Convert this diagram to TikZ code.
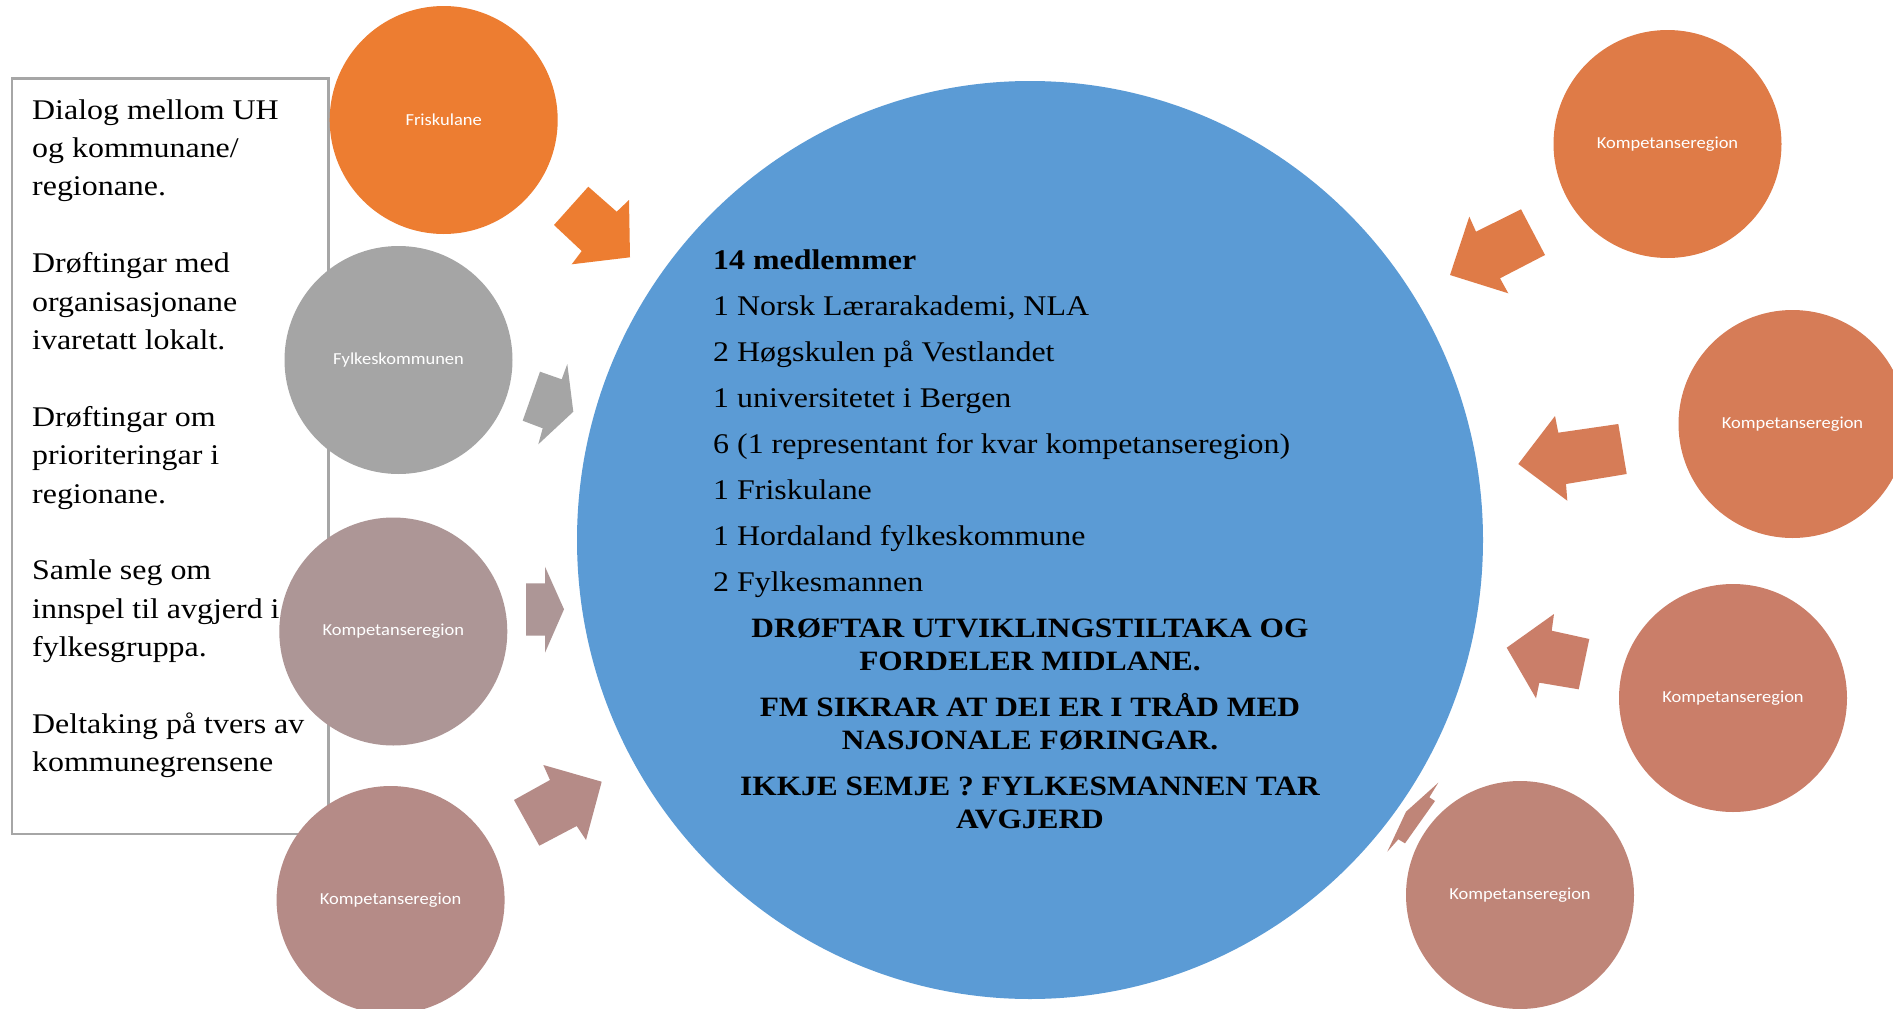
\documentclass[tikz,border=0pt]{standalone}
\usepackage{fontspec}
\usetikzlibrary{shapes.geometric}
\newfontfamily\serifw[FakeStretch=1.12]{Liberation Serif}
\newfontfamily\sansw[FakeStretch=1.1]{Carlito}
\definecolor{cblue}{HTML}{5B9BD5}
\definecolor{cfri}{HTML}{ED7D31}
\definecolor{cfyl}{HTML}{A5A5A5}
\definecolor{ckl1}{HTML}{AD9696}
\definecolor{ckl2}{HTML}{B58B87}
\definecolor{ckr1}{HTML}{DF7B47}
\definecolor{ckr2}{HTML}{D67C57}
\definecolor{ckr3}{HTML}{CA7E69}
\definecolor{ckr4}{HTML}{BF8578}
\definecolor{cbox}{HTML}{A6A6A6}
\begin{document}
\begin{tikzpicture}[x=1pt,y=-1pt,
  bub/.style={circle, minimum size=228pt, inner sep=0pt, text=white,
    font=\sansw\fontsize{16.8}{20}\selectfont},
  boxtxt/.style={anchor=base west, inner sep=0pt,
    font=\serifw\fontsize{28.5}{34}\selectfont},
  listtxt/.style={anchor=base west, inner sep=0pt,
    font=\serifw\fontsize{28.5}{34}\selectfont},
  captxt/.style={anchor=base, inner sep=0pt,
    font=\serifw\bfseries\fontsize{28}{33}\selectfont}]
\useasboundingbox (0,0) rectangle (1893,1009);
\clip (0,0) rectangle (1893,1009);
\fill[white] (0,0) rectangle (1893,1009);

% left text box
\draw[cbox, line width=2.5pt] (12,78.5) rectangle (328.4,834);
\node[boxtxt] (b1)  at (32,119)   {Dialog mellom UH};
\node[boxtxt] (b2)  at (32,157.4) {og kommunane/};
\node[boxtxt] (b3)  at (32,195.8) {regionane.};
\node[boxtxt] (b4)  at (32,272.6) {Drøftingar med};
\node[boxtxt] (b5)  at (32,311)   {organisasjonane};
\node[boxtxt] (b6)  at (32,349.4) {ivaretatt lokalt.};
\node[boxtxt] (b7)  at (32,426.2) {Drøftingar om};
\node[boxtxt] (b8)  at (32,464.6) {prioriteringar i};
\node[boxtxt] (b9)  at (32,503)   {regionane.};
\node[boxtxt] (b10) at (32,579.8) {Samle seg om};
\node[boxtxt] (b11) at (32,618.2) {innspel til avgjerd i};
\node[boxtxt] (b12) at (32,656.6) {fylkesgruppa.};
\node[boxtxt] (b13) at (32,733.4) {Deltaking på tvers av};
\node[boxtxt] (b14) at (32,771.8) {kommunegrensene};

% central ellipse
\node[ellipse, fill=cblue, minimum width=906pt, minimum height=918pt, inner sep=0pt] (mid) at (1030,540) {};

% satellite circles
\node[bub, fill=cfri] (fri) at (443.7,120) {Friskulane};
\node[bub, fill=cfyl] (fyl) at (398.5,360) {Fylkeskommunen};
\node[bub, fill=ckl1] (kl1) at (393.3,631.5) {Kompetanseregion};
\node[bub, fill=ckl2] (kl2) at (390.6,900) {Kompetanseregion};
\node[bub, fill=ckr1] (kr1) at (1667.5,144) {Kompetanseregion};
\node[bub, fill=ckr2] (kr2) at (1792.5,424) {Kompetanseregion};
\node[bub, fill=ckr3] (kr3) at (1733,698) {Kompetanseregion};
\node[bub, fill=ckr4] (kr4) at (1520,895) {Kompetanseregion};

% block arrows
\fill[cfri] (554,225) -- (588.3,186.7) -- (616.7,211.7) -- (629,200) -- (630,257.3) -- (571.7,264.3) -- (581.7,251) -- cycle;
\fill[cfyl] (540,371.7) -- (561.7,379.3) -- (567.3,364) -- (573.3,411.7) -- (538.3,444.3) -- (542.7,428.3) -- (522.7,420.7) -- cycle;
\fill[ckl1] (526,583.3) -- (545,583.3) -- (545,566.7) -- (564,609.3) -- (545,652.7) -- (545,635.7) -- (526,635.7) -- cycle;
\fill[ckl2] (514,800) -- (550,780) -- (543.3,765) -- (601.7,781.7) -- (586,840) -- (576.7,826) -- (539.3,845.7) -- cycle;
\fill[ckr1] (1521,209.3) -- (1545,255) -- (1500,278.3) -- (1508.3,293.3) -- (1450,275) -- (1469.3,216.7) -- (1476,231.7) -- cycle;
\fill[ckr2] (1618.3,424) -- (1626.7,474) -- (1566,484) -- (1567.3,500.7) -- (1518.3,464) -- (1555,416) -- (1558.3,432.7) -- cycle;
\fill[ckr3] (1589.3,639) -- (1578.7,689.3) -- (1539.3,682.7) -- (1536,698.3) -- (1506.7,647.7) -- (1554,614) -- (1551.7,630.7) -- cycle;
\fill[ckr4] (1438.3,782.7) -- (1429.3,797.3) -- (1435,801) -- (1405,843.3) -- (1398.3,839.3) -- (1387.3,851.7) -- (1406,811.7) -- cycle;

% text in central ellipse
\node[listtxt, font=\serifw\bfseries\fontsize{28.5}{34}\selectfont] (l0) at (713,269) {14 medlemmer};
\node[listtxt] (l1) at (713,315) {1 Norsk Lærarakademi, NLA};
\node[listtxt] (l2) at (713,361) {2 Høgskulen på Vestlandet};
\node[listtxt] (l3) at (713,407) {1 universitetet i Bergen};
\node[listtxt] (l4) at (713,453) {6 (1 representant for kvar kompetanseregion)};
\node[listtxt] (l5) at (713,499) {1 Friskulane};
\node[listtxt] (l6) at (713,545) {1 Hordaland fylkeskommune};
\node[listtxt] (l7) at (713,591) {2 Fylkesmannen};

\node[captxt] (c1) at (1030,637) {DRØFTAR UTVIKLINGSTILTAKA OG};
\node[captxt] (c2) at (1030,670) {FORDELER MIDLANE.};
\node[captxt] (c3) at (1030,716) {FM SIKRAR AT DEI ER I TRÅD MED};
\node[captxt] (c4) at (1030,749) {NASJONALE FØRINGAR.};
\node[captxt] (c5) at (1030,795) {IKKJE SEMJE ? FYLKESMANNEN TAR};
\node[captxt] (c6) at (1030,828) {AVGJERD};
\end{tikzpicture}
\end{document}
